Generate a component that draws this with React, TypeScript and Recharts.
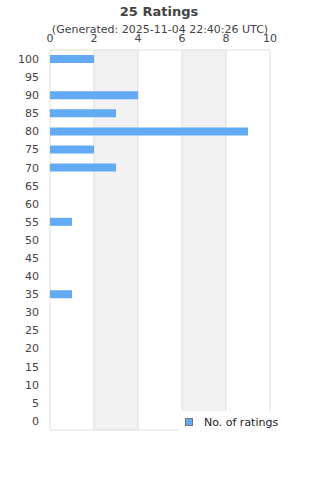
import { Bar, BarChart, CartesianGrid, Legend, XAxis, YAxis } from "recharts";

const scores = ["100", "95", "90", "85", "80", "75", "70", "65", "60", "55", "50", "45", "40", "35", "30", "25", "20", "15", "10", "5", "0"];
const ratingCounts = [2, 0, 4, 3, 9, 2, 3, 0, 0, 1, 0, 0, 0, 1, 0, 0, 0, 0, 0, 0, 0];
const countTicks = [0, 2, 4, 6, 8, 10];

const title = "25 Ratings";
const subtitle = "(Generated: 2025-11-04 22:40:26 UTC)";
const seriesName = "No. of ratings";

const data = scores.map((score, i) => ({ score, count: ratingCounts[i] }));

const FONT = "'DejaVu Sans', sans-serif";
const BAR = "#62aaf4";
const TEXT = "#444444";

function RatingsLegend() {
  return (
    <div
      style={{
        background: "#fff",
        display: "flex",
        alignItems: "center",
        height: 22,
        paddingLeft: 7,
        fontFamily: FONT,
        fontSize: 11,
        color: "#222",
      }}
    >
      <span
        style={{
          display: "inline-block",
          width: 6,
          height: 6,
          background: BAR,
          border: "1px solid #777",
          marginRight: 11,
        }}
      />
      {seriesName}
    </div>
  );
}

export default function App() {
  return (
    <div style={{ position: "absolute", left: 0, top: 0, width: 320, height: 480, background: "#fff" }}>
      <div
        style={{
          position: "absolute",
          left: 0,
          top: 4,
          width: 318,
          textAlign: "center",
          fontFamily: FONT,
          fontSize: 13,
          fontWeight: "bold",
          color: TEXT,
        }}
      >
        {title}
      </div>
      <div
        style={{
          position: "absolute",
          left: 0,
          top: 23,
          width: 320,
          textAlign: "center",
          fontFamily: FONT,
          fontSize: 11,
          color: TEXT,
          zIndex: 2,
        }}
      >
        {subtitle}
      </div>
      <BarChart
        width={320}
        height={480}
        data={data}
        layout="vertical"
        margin={{ top: 20, right: 50, bottom: 50, left: 0 }}
        style={{ fontFamily: FONT }}
      >
        <CartesianGrid
          stroke="#dddddd"
          verticalFill={["#ffffff", "#f2f2f2"]}
          horizontalCoordinatesGenerator={({ offset }: any) => [offset.top, offset.top + offset.height]}
        />
        <XAxis
          type="number"
          orientation="top"
          domain={[0, 10]}
          ticks={countTicks}
          height={30}
          axisLine={false}
          tickLine={false}
          tick={{ fontSize: 11, fill: TEXT }}
          interval={0}
        />
        <YAxis
          type="category"
          dataKey="score"
          width={50}
          axisLine={false}
          tickLine={false}
          tickMargin={5}
          interval={0}
          tick={{ fontSize: 11, fill: TEXT }}
        />
        <Legend
          layout="horizontal"
          verticalAlign="middle"
          align="center"
          content={() => <RatingsLegend />}
          wrapperStyle={{ position: "absolute", left: 178, top: 411, width: 142, height: 24 }}
        />
        <Bar dataKey="count" name={seriesName} fill={BAR} barSize={8} isAnimationActive={false} />
      </BarChart>
    </div>
  );
}
